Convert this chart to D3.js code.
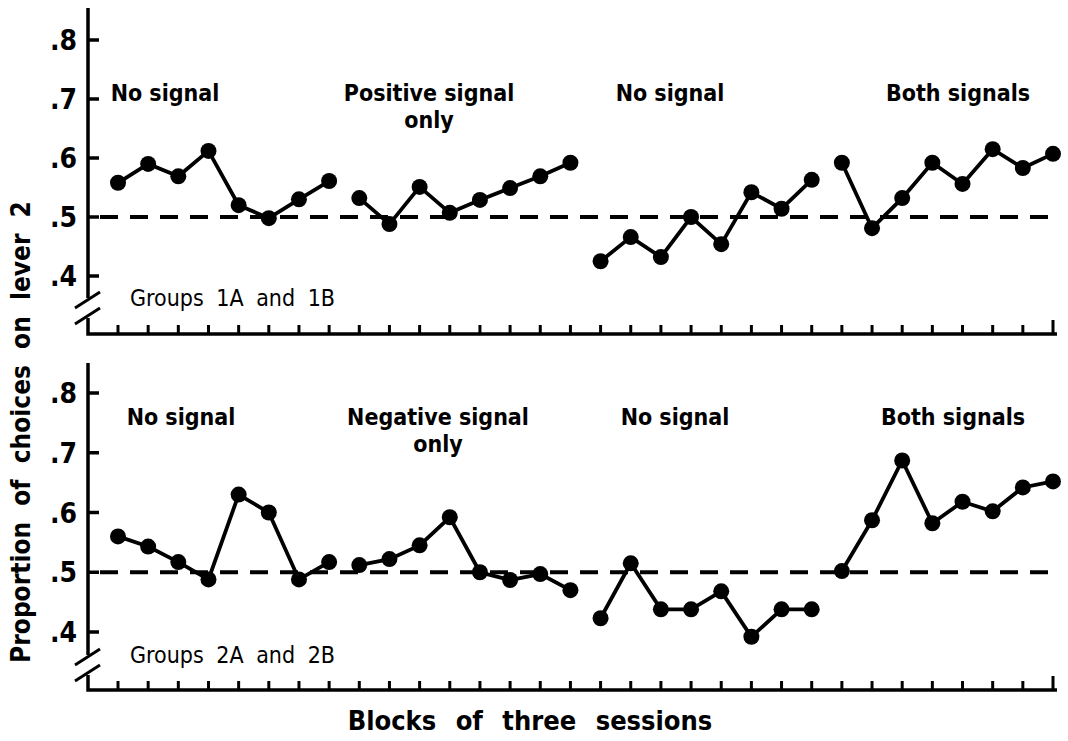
<!DOCTYPE html>
<html>
<head>
<meta charset="utf-8">
<script src="https://cdn.jsdelivr.net/npm/d3@7"></script>
<style>
  body { margin: 0; background: #fff; }
  svg { display: block; }
  text { font-family: "DejaVu Sans Condensed", "DejaVu Sans", sans-serif; font-weight: bold; fill: #000; }
</style>
</head>
<body>
<script>
const width = 1068, height = 741;

// blocks of three sessions, 4 phases of 8 blocks
const blocks = [1,2,3,4,5,6,7,8,9,10,11,12,13,14,15,16,17,18,19,20,21,22,23,24,25,26,27,28,29,30,31,32];
const phaseLength = 8;
const yTicks = [0.4, 0.5, 0.6, 0.7, 0.8];
const tickLabels = ['.4', '.5', '.6', '.7', '.8'];
const chance = 0.5;

const group1Phases = ['No signal', 'Positive signal|only', 'No signal', 'Both signals'];
const group1Values = [
	0.558, 0.590, 0.569, 0.612, 0.520, 0.498, 0.530, 0.561,
	0.532, 0.488, 0.551, 0.507, 0.529, 0.549, 0.569, 0.592,
	0.425, 0.466, 0.432, 0.500, 0.454, 0.542, 0.514, 0.563,
	0.592, 0.481, 0.532, 0.592, 0.556, 0.615, 0.583, 0.607
];

const group2Phases = ['No signal', 'Negative signal|only', 'No signal', 'Both signals'];
const group2Values = [
	0.560, 0.543, 0.517, 0.488, 0.630, 0.600, 0.488, 0.517,
	0.512, 0.522, 0.545, 0.592, 0.500, 0.487, 0.497, 0.470,
	0.423, 0.515, 0.438, 0.438, 0.468, 0.392, 0.438, 0.438,
	0.502, 0.587, 0.687, 0.582, 0.618, 0.602, 0.642, 0.652
];

const svg = d3.select('body').append('svg')
	.attr('width', width)
	.attr('height', height);

const x = d3.scaleLinear()
	.domain([1, 32])
	.range([118, 1053]);

const axisX = 88;

// label centres for each phase
const phaseLabelX = [[165, 429, 670, 958], [181, 438, 675, 953]];

const panels = [
	{ phases: group1Phases, values: group1Values, group: 'Groups 1A and 1B',
	  top: 8, y8: 40, y4: 276, breakY: 298, baseY: 334, labelY: 101, groupY: 306 },
	{ phases: group2Phases, values: group2Values, group: 'Groups 2A and 2B',
	  top: 363, y8: 393, y4: 632, breakY: 655, baseY: 690, labelY: 425, groupY: 663 }
];

panels.forEach((p, pi) => {
	const y = d3.scaleLinear()
		.domain([0.4, 0.8])
		.range([p.y4, p.y8]);

	const g = svg.append('g');

	// y axis with break
	g.append('line')
		.attr('x1', axisX).attr('x2', axisX)
		.attr('y1', p.top).attr('y2', p.breakY)
		.attr('stroke', '#000').attr('stroke-width', 3.5);

	[0, 16].forEach(off => {
		g.append('line')
			.attr('x1', axisX - 13).attr('y1', p.breakY + 10 + off)
			.attr('x2', axisX + 12).attr('y2', p.breakY - 6 + off)
			.attr('stroke', '#000').attr('stroke-width', 3);
	});

	g.append('path')
		.attr('d', `M${axisX},${p.breakY + 20} L${axisX},${p.baseY} L${x(32) + 4},${p.baseY}`)
		.attr('fill', 'none')
		.attr('stroke', '#000').attr('stroke-width', 3.5);

	// y ticks
	g.selectAll('.ytick')
		.data(yTicks)
		.join('line')
		.attr('x1', axisX).attr('x2', axisX + 11)
		.attr('y1', d => y(d)).attr('y2', d => y(d))
		.attr('stroke', '#000').attr('stroke-width', 3.5);

	g.selectAll('.ylab')
		.data(yTicks)
		.join('text')
		.attr('x', axisX - 11)
		.attr('y', d => y(d) + 10)
		.attr('text-anchor', 'end')
		.style('font-size', '28px')
		.text((d, i) => tickLabels[i]);

	// x ticks
	g.selectAll('.xtick')
		.data(blocks)
		.join('line')
		.attr('x1', d => x(d)).attr('x2', d => x(d))
		.attr('y1', p.baseY)
		.attr('y2', d => p.baseY - (d === 32 ? 14 : 9))
		.attr('stroke', '#000').attr('stroke-width', 3);

	// chance line
	g.append('line')
		.attr('x1', 100).attr('x2', 1058)
		.attr('y1', y(chance)).attr('y2', y(chance))
		.attr('stroke', '#000').attr('stroke-width', 4)
		.attr('stroke-dasharray', '18,12');

	// data, one line per phase
	const line = d3.line()
		.x(d => x(d.block))
		.y(d => y(d.value));

	p.phases.forEach((label, k) => {
		const seg = blocks.slice(k * phaseLength, (k + 1) * phaseLength)
			.map(b => ({ block: b, value: p.values[b - 1] }));

		g.append('path')
			.datum(seg)
			.attr('d', line)
			.attr('fill', 'none')
			.attr('stroke', '#000')
			.attr('stroke-width', 3.8);

		g.selectAll(null)
			.data(seg)
			.join('circle')
			.attr('cx', d => x(d.block))
			.attr('cy', d => y(d.value))
			.attr('r', 8)
			.attr('fill', '#000');

		const t = g.append('text')
			.attr('x', phaseLabelX[pi][k])
			.attr('y', p.labelY)
			.attr('text-anchor', 'middle')
			.style('font-size', '23px');
		label.split('|').forEach((s, j) => {
			t.append('tspan')
				.attr('x', phaseLabelX[pi][k])
				.attr('dy', j === 0 ? 0 : 27)
				.text(s);
		});
	});

	g.append('text')
		.attr('x', 130)
		.attr('y', p.groupY)
		.style('font-size', '23px')
		.style('font-weight', 'normal')
		.style('word-spacing', '6px')
		.text(p.group);
});

// axis titles
svg.append('text')
	.attr('transform', 'translate(30,432) rotate(-90)')
	.attr('text-anchor', 'middle')
	.style('font-size', '26px')
	.style('word-spacing', '8px')
	.text('Proportion of choices on lever 2');

svg.append('text')
	.attr('x', 530)
	.attr('y', 730)
	.attr('text-anchor', 'middle')
	.style('font-size', '27px')
	.style('word-spacing', '11px')
	.text('Blocks of three sessions');
</script>
</body>
</html>
